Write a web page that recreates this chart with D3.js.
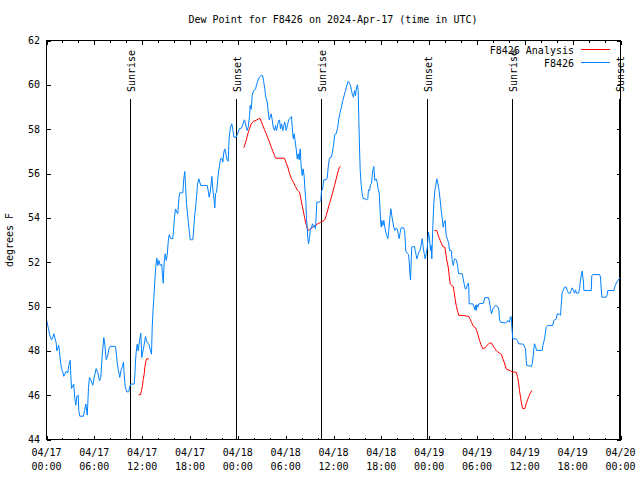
<!DOCTYPE html>
<html><head><meta charset="utf-8">
<script src="https://cdn.jsdelivr.net/npm/d3@7"></script>
<style>
body{margin:0;background:#fff}
svg{display:block}
text{font-family:"DejaVu Sans Mono","Liberation Mono",monospace;font-size:10px;fill:#000}
</style>
</head><body>
<svg id="c" width="640" height="480"></svg>
<script>
const title = "Dew Point for F8426 on 2024-Apr-17 (time in UTC)";
const yLabel = "degrees F";
const yTicks = [44,46,48,50,52,54,56,58,60,62];
const xTickHours = [0,6,12,18,24,30,36,42,48,54,60,66,72];
const xTickDates = ["04/17","04/17","04/17","04/17","04/18","04/18","04/18","04/18","04/19","04/19","04/19","04/19","04/20"];
const xTickTimes = ["00:00","06:00","12:00","18:00","00:00","06:00","12:00","18:00","00:00","06:00","12:00","18:00","00:00"];
const xMinorHours = d3.range(0, 73, 2);
const sunriseHours = [10.45, 34.42, 58.40];
const sunsetHours = [23.77, 47.79, 71.81];
const seriesNames = ["F8426 Analysis", "F8426"];
const seriesColors = ["#ff0000", "#0080ff"];

// Observed (F8426) — hours since 04/17 00:00 UTC
const obsHours = [0.00,0.25,0.38,0.63,0.79,0.92,1.22,1.29,1.54,1.63,1.76,1.88,2.04,2.17,2.47,2.67,2.80,2.97,3.05,3.14,3.42,3.55,3.68,3.80,3.98,4.05,4.18,4.64,4.77,4.93,5.11,5.18,5.27,5.39,5.61,5.81,5.98,6.23,6.44,6.65,6.81,6.99,7.19,7.31,7.49,7.69,7.81,7.99,8.66,8.74,8.87,9.03,9.19,9.37,9.53,9.66,9.75,9.87,10.07,10.32,10.45,10.57,11.00,11.08,11.16,11.25,11.38,11.50,11.67,11.83,11.95,12.21,12.42,12.58,12.83,13.05,13.17,13.26,13.38,13.46,13.58,13.71,13.84,13.96,14.09,14.26,14.46,14.55,14.64,14.76,14.89,15.02,15.14,15.27,15.39,15.59,15.84,15.93,16.06,16.18,16.35,16.47,16.60,16.72,17.10,17.22,17.35,17.44,17.56,17.81,17.94,18.03,18.35,18.44,18.57,18.73,18.85,18.94,19.11,19.23,19.36,20.16,20.28,20.41,20.53,20.66,20.74,20.86,21.04,21.11,21.20,21.33,21.45,21.58,21.70,21.83,21.99,22.12,22.24,22.37,22.54,22.67,22.79,22.92,23.08,23.24,23.37,23.50,23.80,23.92,24.05,24.21,24.46,24.62,24.80,24.87,25.05,25.17,25.30,25.47,25.55,25.68,25.80,25.97,26.22,26.38,26.56,26.72,26.93,27.10,27.22,27.38,27.51,27.69,27.81,27.94,28.06,28.19,28.31,28.44,28.60,28.73,28.85,28.98,29.10,29.23,29.35,29.48,29.64,29.77,29.89,30.07,30.23,30.39,30.57,30.73,30.82,30.95,31.07,31.20,31.32,31.45,31.57,31.70,31.82,31.95,32.07,32.20,32.33,32.40,32.53,32.61,32.70,32.78,32.87,32.99,33.08,33.24,33.37,33.49,33.62,33.74,33.83,33.91,34.25,34.41,34.50,34.62,34.78,35.09,35.21,35.34,35.46,35.50,35.75,36.00,36.16,36.34,36.50,36.67,36.84,37.00,37.17,37.34,37.51,37.67,37.85,38.01,38.13,38.26,38.39,38.51,38.64,38.76,38.89,39.01,39.10,39.18,39.26,39.35,39.48,39.60,39.73,40.02,40.14,40.30,40.39,40.52,40.64,40.77,40.86,40.93,41.06,41.18,41.36,41.48,41.61,41.73,41.81,41.90,41.99,42.06,42.19,42.31,42.44,42.56,42.69,42.81,42.94,43.06,43.19,43.31,43.44,43.57,43.69,43.87,43.99,44.12,44.24,44.37,44.49,44.78,44.91,45.00,45.07,45.25,45.41,45.50,45.57,45.66,45.75,45.82,46.16,46.25,46.38,46.45,46.58,46.70,46.88,47.00,47.13,47.25,47.38,47.50,47.63,47.76,47.83,47.92,48.04,48.17,48.26,48.33,48.46,48.58,48.71,48.83,48.96,49.08,49.21,49.39,49.51,49.64,49.76,49.89,50.01,50.14,50.30,50.43,50.55,50.77,50.89,51.02,51.14,51.22,51.43,51.56,51.68,52.15,52.27,52.40,52.52,52.65,52.77,52.90,52.97,53.02,53.48,53.60,53.73,53.81,53.90,53.98,54.10,54.23,54.82,54.98,55.44,55.57,55.70,55.82,55.95,56.07,56.32,56.61,56.74,56.82,56.95,57.58,57.74,57.87,58.08,58.17,58.29,58.33,58.42,58.49,58.92,59.08,59.21,59.83,60.09,60.17,60.25,60.84,60.96,61.05,61.13,61.21,61.34,61.47,62.18,62.26,62.47,62.59,62.68,62.88,63.51,63.63,63.94,64.06,64.39,64.48,64.56,64.69,64.81,64.98,65.19,65.32,65.48,65.69,65.82,65.94,66.11,66.23,66.36,66.48,66.74,66.86,66.95,67.07,67.20,67.27,67.36,67.40,68.33,68.40,68.53,69.37,69.49,69.58,69.66,70.21,70.34,70.41,71.17,71.29,71.47,71.67,71.95];
const obsValues = [49.40,49.00,48.75,48.50,48.60,48.77,48.35,48.00,48.25,47.96,47.50,47.20,47.05,46.85,47.08,47.00,47.35,47.57,46.90,46.30,46.50,45.85,45.55,45.95,46.00,45.30,45.05,45.05,45.30,45.60,45.10,45.60,46.35,46.80,46.65,46.45,46.80,47.20,47.00,46.65,46.80,47.80,48.60,48.30,47.60,47.80,48.05,48.20,48.20,47.95,47.45,47.10,46.80,47.15,47.30,47.50,46.90,46.40,46.15,46.15,46.40,46.50,46.50,46.90,47.50,47.95,48.30,48.00,48.45,48.80,47.70,48.20,48.65,48.40,48.30,48.00,47.85,49.05,49.95,50.35,51.10,51.80,52.18,51.85,52.08,51.85,51.90,51.40,51.05,52.00,52.38,52.08,52.30,52.93,53.24,53.06,53.06,53.40,54.06,54.40,54.25,54.18,54.86,55.13,55.13,55.76,56.09,55.46,54.64,53.74,53.28,53.01,53.01,53.35,54.03,54.56,55.09,55.49,55.76,55.60,55.46,55.46,55.23,54.93,55.15,55.56,55.87,55.31,54.75,54.45,55.09,55.15,55.61,56.06,56.36,56.66,56.70,56.51,56.96,57.11,56.81,56.59,56.55,57.64,58.09,58.24,58.00,57.64,57.64,57.75,57.87,58.02,58.05,58.20,58.42,58.40,58.09,57.94,58.09,58.62,59.07,58.90,59.52,59.74,59.80,60.05,60.23,60.35,60.42,60.42,60.20,59.82,59.44,59.22,58.77,58.42,58.54,58.69,58.42,58.09,57.94,58.17,57.94,58.17,58.36,58.42,58.02,58.24,57.94,58.17,58.32,57.94,58.20,58.42,58.51,58.57,58.09,57.57,57.79,57.42,57.11,56.66,56.89,56.62,57.11,56.30,55.91,56.21,55.83,55.38,54.78,53.96,53.58,53.06,52.83,53.10,53.43,53.58,53.73,53.58,53.65,53.51,54.11,54.71,54.71,54.78,55.23,55.26,55.72,55.72,55.79,56.29,56.62,56.70,56.74,57.26,57.76,57.80,58.02,58.47,58.77,59.00,59.29,59.52,59.74,59.97,60.16,60.07,59.97,59.74,59.52,59.44,59.74,59.52,59.89,60.00,59.74,58.39,57.19,56.14,55.46,55.09,54.86,54.86,54.80,54.86,55.26,55.23,55.50,55.55,55.91,56.14,56.32,55.69,55.75,55.60,55.28,55.13,54.61,53.94,53.58,53.88,53.65,53.88,53.58,53.35,53.20,53.06,53.43,53.96,54.41,54.11,53.81,53.58,53.43,53.54,53.50,53.28,53.06,53.35,53.55,53.55,53.43,52.98,52.50,52.40,52.35,52.00,51.55,51.20,52.08,52.68,52.71,52.53,52.30,52.15,52.30,52.45,52.55,52.80,53.06,52.68,52.38,52.15,52.38,52.65,52.98,53.35,53.05,52.53,52.75,52.15,53.65,54.63,55.23,55.46,55.76,55.57,55.31,54.78,54.33,53.96,53.58,53.81,53.88,53.20,53.01,52.90,52.53,52.53,52.08,51.85,52.08,52.15,52.10,51.85,51.48,51.48,51.25,51.00,50.80,50.80,50.95,51.05,50.87,50.12,50.12,50.00,49.85,50.05,49.82,50.08,49.97,50.12,50.15,50.40,50.40,50.20,49.90,49.67,49.85,49.94,50.05,50.00,49.85,49.44,49.29,49.26,49.29,49.37,49.29,49.52,49.55,49.29,48.84,48.54,48.54,48.47,48.32,48.30,48.09,47.57,47.34,47.30,47.49,47.79,48.09,48.32,48.20,48.02,48.02,48.24,48.54,48.84,49.07,49.14,49.14,49.37,49.44,49.67,49.64,49.60,50.05,50.65,50.72,50.87,50.87,50.72,50.60,50.60,50.72,50.84,50.72,50.60,50.75,50.60,50.60,50.80,51.10,51.40,51.60,51.33,51.10,50.72,50.72,51.40,51.44,51.44,51.33,50.80,50.42,50.42,50.54,50.72,50.72,50.90,51.05,51.17,51.30];

// Analysis (F8426 Analysis) — null marks a gap between runs
const anaHours = [11.54,11.79,11.92,12.04,12.13,12.26,12.33,12.46,12.58,12.83,18.0,
  24.75,25.05,25.25,25.46,25.68,25.97,26.30,26.63,26.81,26.97,27.13,27.35,27.56,27.76,27.97,28.19,28.39,28.60,28.73,29.85,30.07,30.27,30.48,30.73,30.98,31.23,31.45,31.74,31.90,32.07,32.24,32.36,32.49,32.65,32.78,32.99,33.40,33.74,34.03,34.33,34.66,34.91,35.09,35.29,35.50,35.71,35.91,36.13,36.34,36.54,36.75,36.88,42.0,
  48.67,48.96,49.08,49.21,49.39,49.55,49.71,49.96,50.09,50.21,50.39,50.51,50.64,50.80,51.02,51.14,51.27,51.39,51.56,51.72,52.22,52.97,53.15,53.31,53.56,53.81,53.98,54.15,54.32,54.48,54.73,54.98,55.23,55.57,55.82,55.98,56.24,56.49,56.82,57.07,57.24,57.45,57.58,57.74,58.17,58.42,58.92,59.08,59.21,59.33,59.46,59.58,59.71,60.00,60.17,60.34,60.50,60.68,60.88];
const anaValues = [46.02,46.02,46.21,46.44,46.70,46.97,47.24,47.52,47.64,47.64,null,
  57.16,57.49,57.79,58.02,58.24,58.36,58.40,58.47,58.47,58.32,58.17,57.97,57.79,57.61,57.42,57.19,57.00,56.81,56.69,56.69,56.47,56.29,56.01,55.76,55.60,55.41,55.26,55.16,54.86,54.56,54.26,54.03,53.81,53.60,53.43,53.47,53.58,53.65,53.73,53.79,53.85,53.91,54.11,54.36,54.66,54.90,55.16,55.46,55.76,56.06,56.29,56.32,null,
  53.43,53.43,53.28,53.13,52.98,52.83,52.71,52.68,52.38,52.08,51.78,51.40,51.03,50.95,50.90,50.65,50.30,50.05,49.79,49.60,49.60,49.55,49.42,49.29,49.10,49.04,48.90,48.69,48.47,48.29,48.09,48.13,48.24,48.35,48.35,48.24,48.10,47.98,47.90,47.84,47.64,47.45,47.27,47.15,47.12,47.04,47.04,46.84,46.59,46.21,45.91,45.64,45.40,45.40,45.61,45.79,45.94,46.09,46.21];

const svg = d3.select("#c");
const L = 46.5, R = 620.5, T = 40.5, B = 439.5;
const x = d3.scaleLinear().domain([0, 72]).range([L, R]);
const y = d3.scaleLinear().domain([44, 62]).range([B, T]);

// title
svg.append("text").attr("x", 333).attr("y", 23).attr("text-anchor", "middle").text(title);
// y label
svg.append("text").attr("transform", "translate(13,240) rotate(-90)").attr("text-anchor", "middle").text(yLabel);

const axisStyle = g => { g.select(".domain").remove(); g.selectAll("line").attr("stroke", "#000").attr("shape-rendering", "crispEdges"); g.selectAll("text").remove(); };

// major & minor x ticks, bottom and top (inward)
svg.append("g").attr("transform", `translate(0,${B})`).call(d3.axisBottom(x).tickValues(xMinorHours).tickSize(-2).tickFormat("")).call(axisStyle);
svg.append("g").attr("transform", `translate(0,${B})`).call(d3.axisBottom(x).tickValues(xTickHours).tickSize(-4).tickFormat("")).call(axisStyle);
svg.append("g").attr("transform", `translate(0,${T})`).call(d3.axisTop(x).tickValues(xMinorHours).tickSize(-2).tickFormat("")).call(axisStyle);
svg.append("g").attr("transform", `translate(0,${T})`).call(d3.axisTop(x).tickValues(xTickHours).tickSize(-4).tickFormat("")).call(axisStyle);
// y ticks left and right
svg.append("g").attr("transform", `translate(${L},0)`).call(d3.axisLeft(y).tickValues(yTicks).tickSize(-4).tickFormat("")).call(axisStyle);
svg.append("g").attr("transform", `translate(${R},0)`).call(d3.axisRight(y).tickValues(yTicks).tickSize(-4).tickFormat("")).call(axisStyle);

// tick labels
const xl = svg.append("g");
xTickHours.forEach((h, i) => {
  xl.append("text").attr("x", x(h)).attr("y", 456).attr("text-anchor", "middle").text(xTickDates[i]);
  xl.append("text").attr("x", x(h)).attr("y", 470).attr("text-anchor", "middle").text(xTickTimes[i]);
});
yTicks.forEach(v => {
  svg.append("text").attr("x", 40).attr("y", y(v) + 3.5).attr("text-anchor", "end").text(v);
});

// sunrise / sunset markers
const sunEvents = sunriseHours.map(h => ({h, label: "Sunrise"})).concat(sunsetHours.map(h => ({h, label: "Sunset"})));
sunEvents.forEach(e => {
  const xp = Math.round(x(e.h)) + 0.5;
  svg.append("line").attr("x1", xp).attr("x2", xp).attr("y1", 99).attr("y2", B)
    .attr("stroke", "#000").attr("stroke-width", 1).attr("shape-rendering", "crispEdges");
  svg.append("text").attr("transform", `translate(${xp + 4.5},92) rotate(-90)`).attr("text-anchor", "start").text(e.label);
});

// series
const mkLine = d3.line().defined(d => d[1] != null).x(d => x(d[0])).y(d => y(d[1]));
const ana = anaHours.map((h, i) => [h, anaValues[i]]);
const obs = obsHours.map((h, i) => [h, obsValues[i]]);
svg.append("path").datum(ana).attr("d", mkLine).attr("fill", "none").attr("stroke", seriesColors[0]).attr("stroke-width", 1);
svg.append("path").datum(obs).attr("d", mkLine).attr("fill", "none").attr("stroke", seriesColors[1]).attr("stroke-width", 1);

// frame
svg.append("rect").attr("x", L).attr("y", T).attr("width", R - L).attr("height", B - T)
  .attr("fill", "none").attr("stroke", "#000").attr("shape-rendering", "crispEdges");

// legend
seriesNames.forEach((n, i) => {
  const ly = 49.5 + i * 13;
  svg.append("text").attr("x", 574).attr("y", ly + 4).attr("text-anchor", "end").text(n);
  svg.append("line").attr("x1", 581).attr("x2", 610).attr("y1", ly).attr("y2", ly)
    .attr("stroke", seriesColors[i]).attr("stroke-width", 1).attr("shape-rendering", "crispEdges");
});
</script>
</body></html>
